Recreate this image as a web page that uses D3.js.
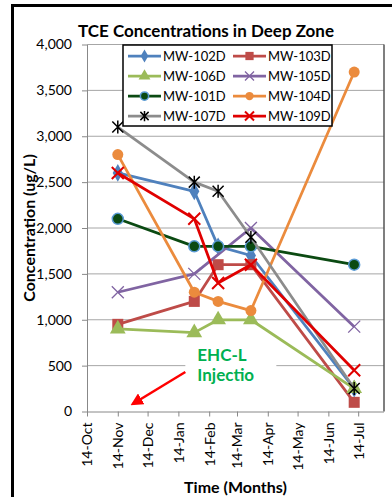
<!DOCTYPE html>
<html>
<head>
<meta charset="utf-8">
<script src="https://cdn.jsdelivr.net/npm/d3@7"></script>
<style>
  body { margin: 0; background: #fff; }
  text { font-family: Lato, "Open Sans", sans-serif; fill: #000; }
</style>
</head>
<body>
<div id="chart"></div>
<script>

// sample dates and TCE values (ug/L) per well
const sampleDates = ["2014-11-14", "2015-01-30", "2015-02-23", "2015-03-28", "2015-07-10"];
const mw102D = [2600, 2400, 1800, 1700, 250];
const mw103D = [950, 1200, 1600, 1600, 100];
const mw106D = [900, 860, 1000, 1000, 250];
const mw105D = [1300, 1500, null, 2000, 925];
const mw101D = [2100, 1800, 1800, 1800, 1600];
const mw104D = [2800, 1300, 1200, 1100, 3700];
const mw107D = [3100, 2500, 2400, 1900, 250];
const mw109D = [2600, 2100, 1400, 1600, 450];

const seriesNames = ["MW-102D", "MW-103D", "MW-106D", "MW-105D", "MW-101D", "MW-104D", "MW-107D", "MW-109D"];
const seriesValues = [mw102D, mw103D, mw106D, mw105D, mw101D, mw104D, mw107D, mw109D];

const xTickDates = ["2014-10-14", "2014-11-14", "2014-12-14", "2015-01-14", "2015-02-14",
                    "2015-03-14", "2015-04-14", "2015-05-14", "2015-06-14", "2015-07-14"];
const yTicks = [0, 500, 1000, 1500, 2000, 2500, 3000, 3500, 4000];

const annotationLines = ["EHC-L", "Injectio"];
const arrowFrom = {date: "2015-01-21", value: 430};
const arrowTo = {date: "2014-11-29", value: 82};

// styles
const styles = [
  {color: "#4F81BD", marker: "diamond"},
  {color: "#BE4B48", marker: "square"},
  {color: "#9BBB59", marker: "triangle"},
  {color: "#8064A2", marker: "x"},
  {color: "#0B4A12", marker: "circle", outline: "#5B9BD5"},
  {color: "#EB8B3D", marker: "circle"},
  {color: "#8C8C8C", marker: "star", markerColor: "#000"},
  {color: "#E00000", marker: "x", thick: true}
];

var width = 392;
var height = 497;
var margin = ({top: 44.5, right: 8, bottom: 85.5, left: 87});

var parse = d3.timeParse("%Y-%m-%d");

var svg = d3.select("#chart")
  .append("svg")
    .attr("width", width)
    .attr("height", height);

// outer chart frame (runs off right and bottom edge)
svg.append("rect")
    .attr("x", 12.5).attr("y", 5.5)
    .attr("width", 420).attr("height", 520)
    .attr("fill", "none")
    .attr("stroke", "#000")
    .attr("stroke-width", 3);

var xScale = d3.scaleTime()
    .domain([parse("2014-10-14"), parse("2015-08-09")])
    .range([margin.left, width - margin.right]);

var yScale = d3.scaleLinear()
    .domain([0, 4000])
    .range([height - margin.bottom, margin.top]);

// gridlines
svg.append("g")
  .selectAll("line")
  .data(yTicks.slice(1))
  .join("line")
    .attr("x1", margin.left)
    .attr("x2", width - margin.right)
    .attr("y1", d => yScale(d))
    .attr("y2", d => yScale(d))
    .attr("stroke", "#A6A6A6")
    .attr("stroke-width", 1);

// plot area right border
svg.append("line")
    .attr("x1", width - margin.right).attr("x2", width - margin.right)
    .attr("y1", margin.top).attr("y2", height - margin.bottom)
    .attr("stroke", "#555").attr("stroke-width", 1.5);

// axes
var xAxis = svg.append("g")
    .attr("transform", `translate(0,${height - margin.bottom})`)
    .call(d3.axisBottom(xScale)
      .tickValues(xTickDates.map(parse))
      .tickFormat(d3.timeFormat("%-d-%b"))
      .tickSize(5)
      .tickSizeOuter(0));
xAxis.select(".domain").attr("stroke", "#888").attr("d", `M${margin.left},0.5H${width - margin.right}`);
xAxis.selectAll(".tick line").attr("stroke", "#888");
xAxis.selectAll(".tick text")
    .attr("transform", "rotate(-90)")
    .attr("text-anchor", "end")
    .attr("x", -11)
    .attr("y", 0)
    .attr("dy", "0.35em")
    .style("font-size", "14px")
    .style("font-family", "Lato, sans-serif")
    .attr("fill", "#000");

var yAxis = svg.append("g")
    .attr("transform", `translate(${margin.left},0)`)
    .call(d3.axisLeft(yScale)
      .tickValues(yTicks)
      .tickFormat(d3.format(","))
      .tickSize(5)
      .tickPadding(10)
      .tickSizeOuter(0));
yAxis.select(".domain").attr("stroke", "#888");
yAxis.selectAll(".tick line").attr("stroke", "#888");
yAxis.selectAll(".tick text")
    .style("font-size", "14px")
    .style("font-family", "Lato, sans-serif")
    .attr("fill", "#000");

// series
var line = d3.line()
    .x(d => xScale(d.date))
    .y(d => yScale(d.value));

function drawMarker(g, st, size) {
  var c = st.markerColor || st.color;
  var s = size;
  if (st.marker == "diamond") {
    g.append("path").attr("d", d3.symbol(d3.symbolDiamond, s * s * 0.9)()).attr("fill", c);
  } else if (st.marker == "square") {
    g.append("rect").attr("x", -s / 2).attr("y", -s / 2).attr("width", s).attr("height", s).attr("fill", c);
  } else if (st.marker == "triangle") {
    g.append("path").attr("d", d3.symbol(d3.symbolTriangle, s * s * 0.75)()).attr("fill", c);
  } else if (st.marker == "circle") {
    g.append("circle").attr("r", s / 2).attr("fill", c)
      .attr("stroke", st.outline || "none").attr("stroke-width", st.outline ? 1.5 : 0);
  } else if (st.marker == "x") {
    var h = s / 2;
    g.append("path").attr("d", `M${-h},${-h}L${h},${h}M${-h},${h}L${h},${-h}`)
      .attr("stroke", c).attr("stroke-width", st.thick ? 2 : 1.3).attr("fill", "none");
  } else if (st.marker == "star") {
    var h = s / 2;
    g.append("path").attr("d", `M${-h},${-h}L${h},${h}M${-h},${h}L${h},${-h}M0,${-h - 1}L0,${h + 1}`)
      .attr("stroke", c).attr("stroke-width", 1.5).attr("fill", "none");
  }
}

var markerSizes = {diamond: 10, square: 11, triangle: 12, circle: 11, x: 12, star: 11};

seriesValues.forEach(function(vals, i) {
  var st = styles[i];
  var pts = sampleDates.map((d, j) => ({date: parse(d), value: vals[j]}))
    .filter(p => p.value != null);

  svg.append("path")
      .datum(pts)
      .attr("fill", "none")
      .attr("stroke", st.color)
      .attr("stroke-width", 2.75)
      .attr("stroke-linejoin", "round")
      .attr("d", line);

  pts.forEach(function(p) {
    var g = svg.append("g")
        .attr("transform", `translate(${xScale(p.date)},${yScale(p.value)})`);
    drawMarker(g, st, markerSizes[st.marker]);
  });
});

// annotation
var ax0 = xScale(parse(arrowFrom.date)), ay0 = yScale(arrowFrom.value);
var ax1 = xScale(parse(arrowTo.date)), ay1 = yScale(arrowTo.value);

svg.append("rect")
    .attr("x", ax0).attr("y", ay0 - 30)
    .attr("width", 91).attr("height", 50)
    .attr("fill", "#fff");

svg.append("text")
    .attr("x", ax0 + 12).attr("y", ay0 - 11)
    .style("font-size", "17px").style("font-weight", "bold")
    .style("fill", "#00B050")
    .text(annotationLines[0]);
svg.append("text")
    .attr("x", ax0 + 12).attr("y", ay0 + 9)
    .style("font-size", "17px").style("font-weight", "bold")
    .style("fill", "#00B050")
    .text(annotationLines[1]);

svg.append("defs").append("marker")
    .attr("id", "arrowhead")
    .attr("viewBox", "0 0 10 10")
    .attr("refX", 8).attr("refY", 5)
    .attr("markerWidth", 5).attr("markerHeight", 5)
    .attr("orient", "auto")
  .append("path")
    .attr("d", "M0,0L10,5L0,10z")
    .attr("fill", "#FF0000");

svg.append("line")
    .attr("x1", ax0).attr("y1", ay0)
    .attr("x2", ax1).attr("y2", ay1)
    .attr("stroke", "#FF0000")
    .attr("stroke-width", 2.5)
    .attr("marker-end", "url(#arrowhead)");

// legend
var legend = svg.append("g");
legend.append("rect")
    .attr("x", 123).attr("y", 45)
    .attr("width", 209).attr("height", 81)
    .attr("fill", "#fff")
    .attr("stroke", "#000")
    .attr("stroke-width", 1.5);

seriesNames.forEach(function(name, i) {
  var st = styles[i];
  var col = i % 2, row = Math.floor(i / 2);
  var lx = col == 0 ? 128 : 233;
  var ly = 56 + row * 20;
  var g = legend.append("g").attr("transform", `translate(${lx},${ly})`);
  g.append("line").attr("x1", 0).attr("x2", 33)
    .attr("stroke", st.color).attr("stroke-width", 2.75);
  var mg = g.append("g").attr("transform", "translate(16.5,0)");
  drawMarker(mg, st, markerSizes[st.marker] * 0.75);
  g.append("text")
    .attr("x", 35).attr("dy", "0.35em")
    .style("font-size", "13px")
    .text(name);
});

// titles
svg.append("text")
    .attr("x", 206).attr("y", 37)
    .attr("text-anchor", "middle")
    .style("font-size", "17px").style("font-weight", "bold")
    .text("TCE Concentrations in Deep Zone");

svg.append("text")
    .attr("transform", `translate(35,${(margin.top + height - margin.bottom) / 2}) rotate(-90)`)
    .attr("text-anchor", "middle")
    .style("font-size", "16px").style("font-weight", "bold")
    .text("Concentration  (ug/L)");

svg.append("text")
    .attr("x", (margin.left + width - margin.right) / 2).attr("y", 493)
    .attr("text-anchor", "middle")
    .style("font-size", "16px").style("font-weight", "bold")
    .text("Time (Months)");

</script>
</body>
</html>
